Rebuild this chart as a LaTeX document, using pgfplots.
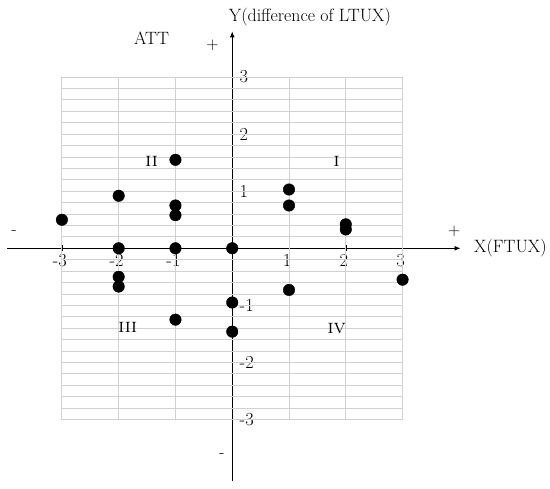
\documentclass[border=0pt]{standalone}
\usepackage{pgfplots}
\pgfplotsset{compat=1.18}
\usetikzlibrary{arrows.meta}
\begin{document}
\begin{tikzpicture}
\begin{axis}[
  x=57bp, y=57.3bp,
  xmin=-3.96, xmax=4.02, ymin=-4.08, ymax=3.8,
  axis x line=middle, axis y line=middle,
  axis line style={black, line width=0.9pt, -{Latex[length=6bp,width=5bp]}},
  xtick={-3,-2,-1,1,2,3}, xticklabels={-3,-2,-1,1,2,3},
  ytick={-3,-2,-1,0,1,2,3}, yticklabels={-3,-2,-1,0,1,2,3},
  tick align=center, major tick length=6bp,
  tick style={black, line width=0.6pt},
  xticklabel style={anchor=north, yshift=0bp, xshift=-2bp, font=\fontsize{18.5}{21}\selectfont},
  yticklabel style={anchor=west, xshift=7bp, font=\fontsize{18.5}{21}\selectfont},
  clip=false,
]
\path (axis cs:-4.09,-4.2) rectangle (axis cs:5.56,4.35);
% grid
\pgfplotsinvokeforeach{-3,-2,-1,1,2,3}{
  \draw[black!18, line width=0.8pt] (axis cs:#1,-3) -- (axis cs:#1,3);
}
\pgfplotsinvokeforeach{0,...,14,16,17,18,19,20,21,22,23,24,25,26,27,28,29,30}{
  \draw[black!18, line width=0.8pt] (axis cs:-3,{-3+#1*0.2}) -- (axis cs:3,{-3+#1*0.2});
}
\addplot[only marks, mark=*, mark size=5.8bp, black] coordinates {
  (-3,0.5) (-2,0.92) (-1,1.55) (-1,0.75) (-1,0.58)
  (-2,0) (-1,0) (0,0)
  (1,1.03) (1,0.75) (2,0.42) (2,0.33)
  (3,-0.55) (1,-0.73) (0,-0.95) (0,-1.46)
  (-2,-0.5) (-2,-0.67) (-1,-1.25)
};
\node[font=\fontsize{18}{21}\selectfont, anchor=west] at (axis cs:-0.12,4.05) {Y(difference of LTUX)};
\node[font=\fontsize{18}{21}\selectfont, anchor=west] at (axis cs:4.2,0) {X(FTUX)};
\node[font=\fontsize{18}{21}\selectfont] at (axis cs:-1.42,3.68) {ATT};
\node[font=\fontsize{17}{20}\selectfont] at (axis cs:-0.35,3.56) {+};
\node[font=\fontsize{17}{20}\selectfont] at (axis cs:3.91,0.3) {+};
\node[font=\fontsize{17}{20}\selectfont] at (axis cs:-3.84,0.28) {-};
\node[font=\fontsize{17}{20}\selectfont] at (axis cs:-0.18,-3.63) {-};
\node[font=\fontsize{20}{23}\selectfont] at (axis cs:-1.42,1.52) {\textsc{ii}};
\node[font=\fontsize{20}{23}\selectfont] at (axis cs:1.84,1.52) {\textsc{i}};
\node[font=\fontsize{20}{23}\selectfont] at (axis cs:-1.84,-1.38) {\textsc{iii}};
\node[font=\fontsize{20}{23}\selectfont] at (axis cs:1.84,-1.4) {\textsc{iv}};
\end{axis}
\end{tikzpicture}
\end{document}
